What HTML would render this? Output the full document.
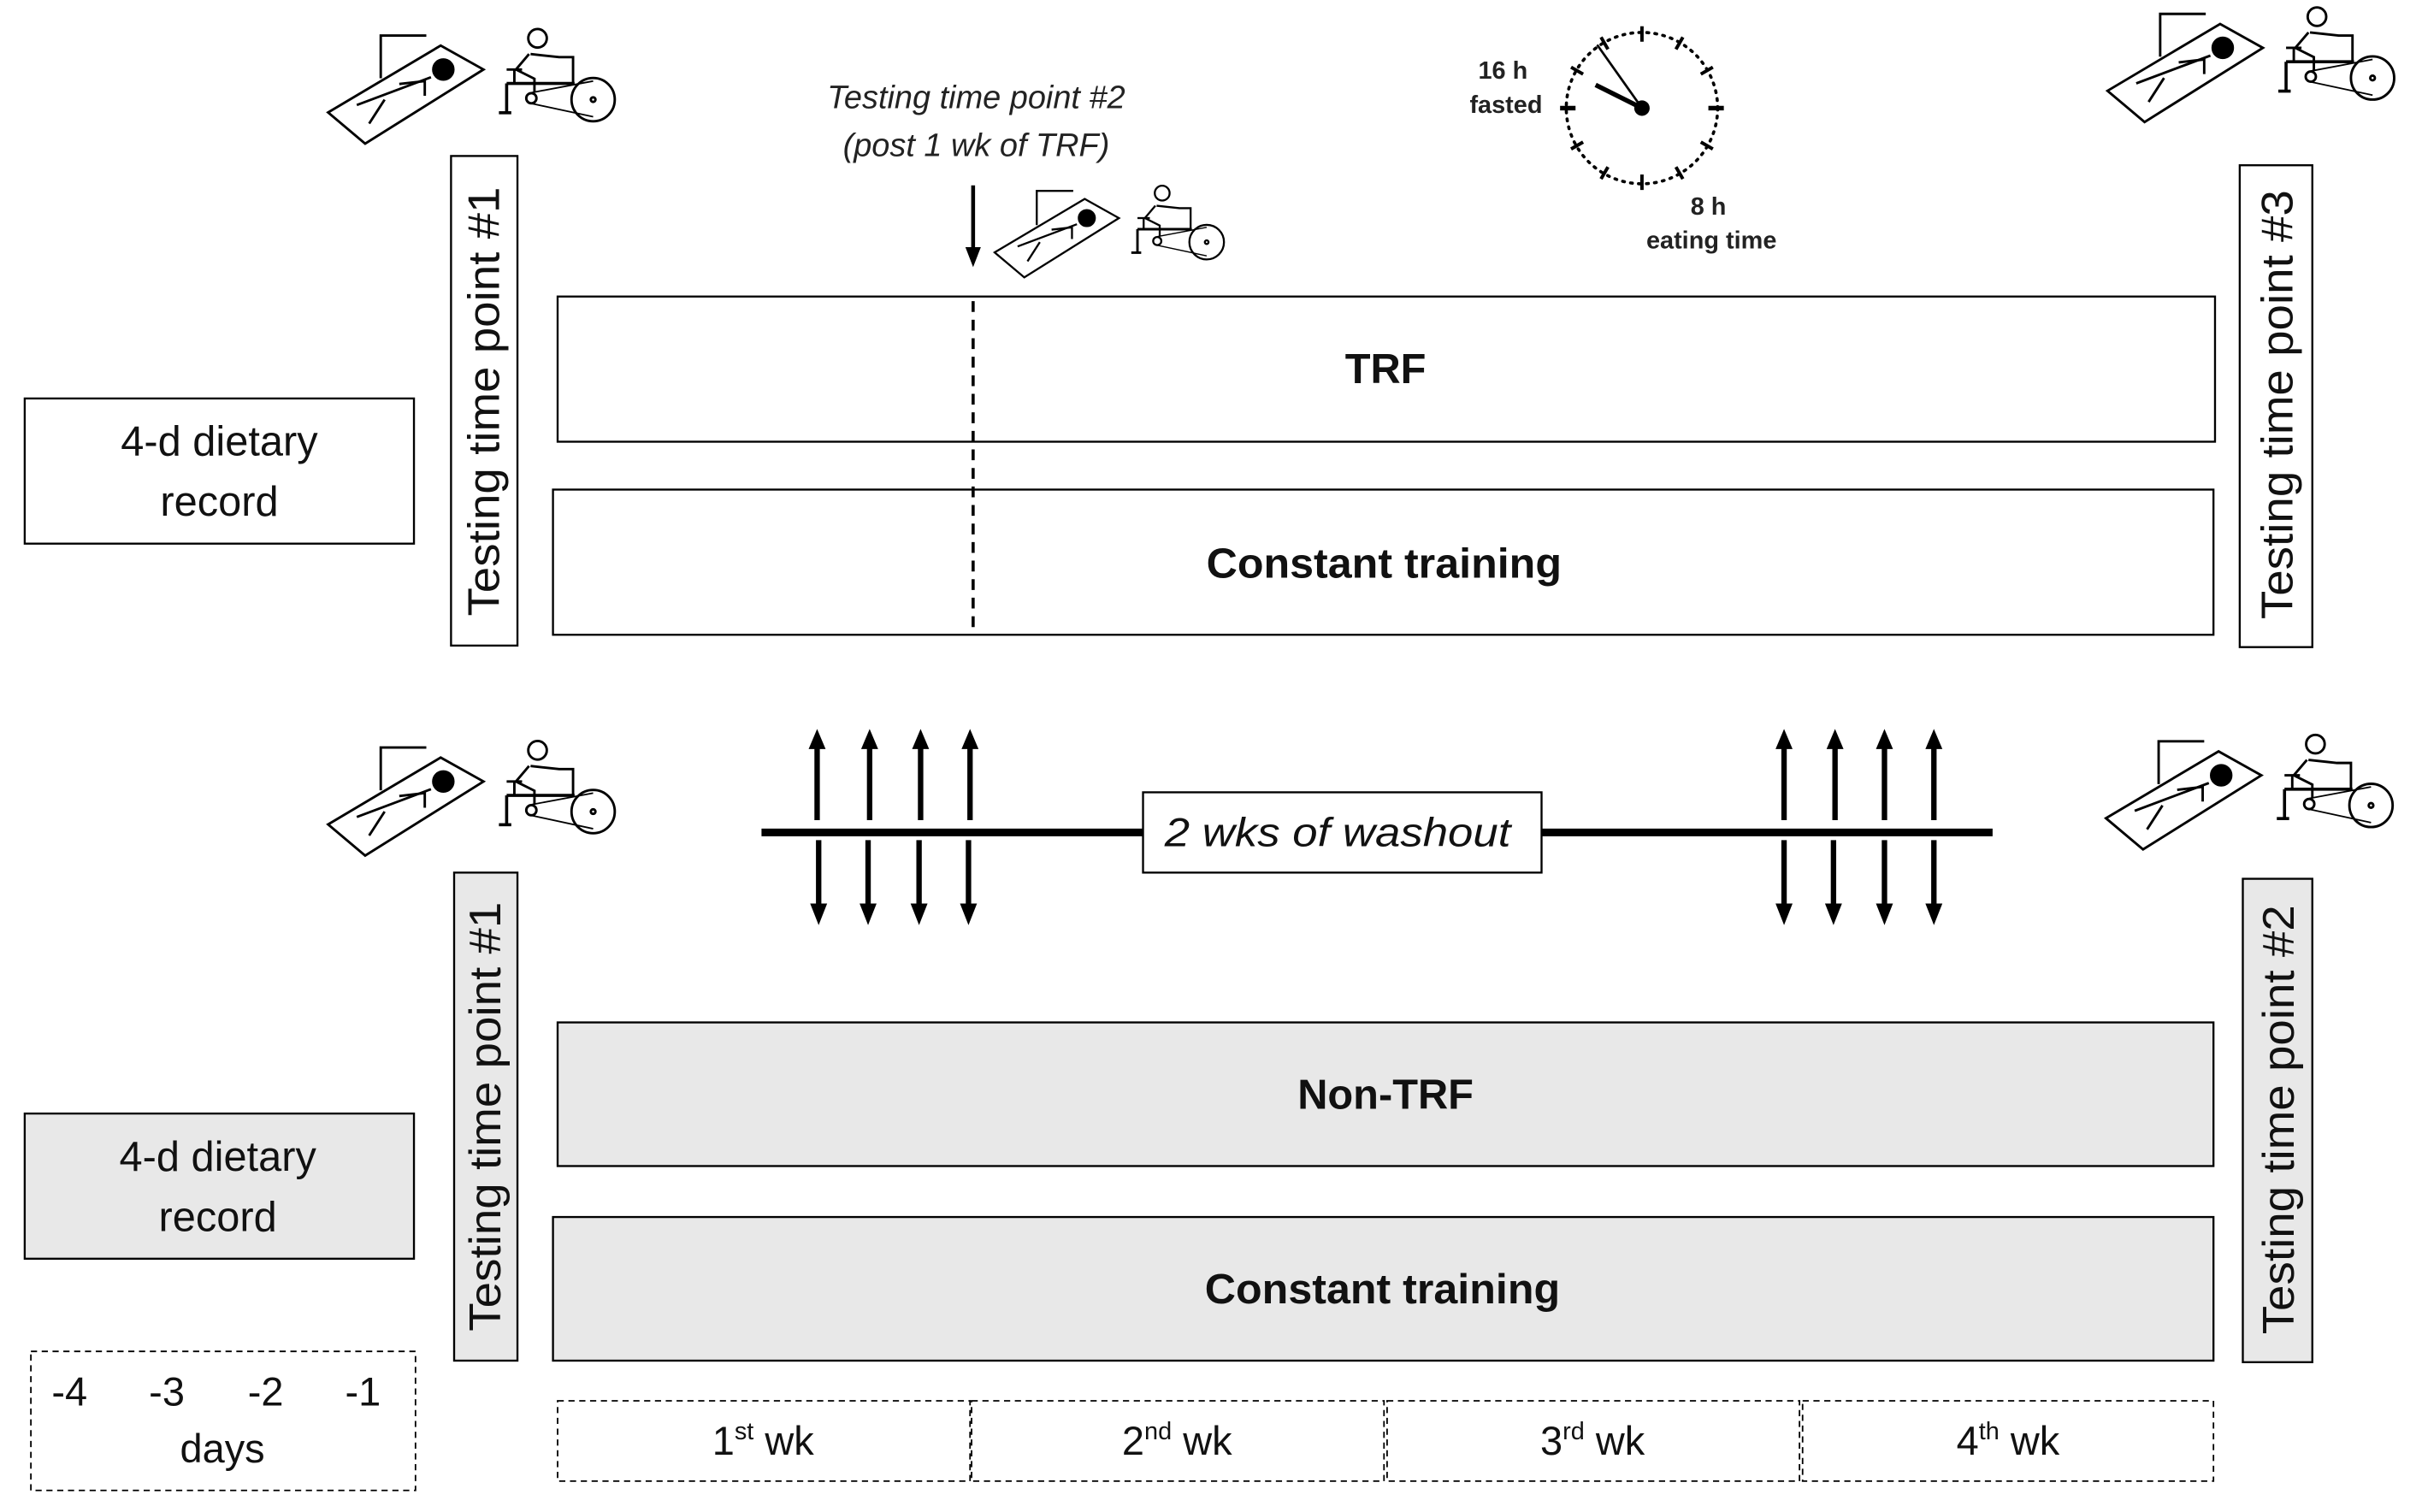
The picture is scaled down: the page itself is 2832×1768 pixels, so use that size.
<!DOCTYPE html>
<html><head><meta charset="utf-8"><style>html,body{margin:0;padding:0;background:#fff}svg{display:block}</style></head>
<body>
<svg width="2832" height="1768" viewBox="0 0 1568 979" preserveAspectRatio="none" xmlns="http://www.w3.org/2000/svg" font-family="Liberation Sans, sans-serif">
<defs>
<g id="icon" fill="none" stroke="#000" stroke-width="1.6">
<polygon points="7.4,61.8 80.3,18.5 108,34 31.4,82"/>
<polyline points="41.5,39.7 41.5,12 71,12"/>
<circle cx="82" cy="34" r="6.5" fill="#000"/>
<line x1="74" y1="39" x2="26" y2="57"/>
<line x1="44" y1="53.5" x2="34" y2="69"/>
<polyline points="53.5,43.4 70,41.5 70,51"/>
<circle cx="143" cy="13.8" r="6"/>
<line x1="137.5" y1="24" x2="129" y2="34"/>
<polyline points="138.5,24 157,26 166,26 166,43"/>
<line x1="123" y1="34" x2="133" y2="34"/>
<line x1="128" y1="34" x2="128" y2="43"/>
<polyline points="129,34 141,40 141,49"/>
<line x1="123" y1="43" x2="167" y2="43" stroke-width="2"/>
<line x1="123" y1="43" x2="123" y2="62" stroke-width="2"/>
<line x1="118" y1="62" x2="126" y2="62" stroke-width="2"/>
<circle cx="139" cy="52.6" r="3.3"/>
<circle cx="179" cy="53.5" r="14"/>
<circle cx="179" cy="53.5" r="1.5"/>
<line x1="139" y1="49" x2="179" y2="41.5" stroke-width="1"/>
<line x1="139" y1="56" x2="179" y2="64.6" stroke-width="1"/>
</g>
<g id="up"><line x1="0" y1="531" x2="0" y2="482" stroke="#000" stroke-width="3.5"/><polygon points="-5.5,485 5.5,485 0,472" fill="#000"/></g>
<g id="dn"><line x1="0" y1="544" x2="0" y2="588" stroke="#000" stroke-width="3.5"/><polygon points="-5.5,585 5.5,585 0,599" fill="#000"/></g>
</defs>

<use href="#icon" x="205" y="11"/>
<use href="#icon" x="1357" y="-3"/>
<use href="#icon" transform="translate(638,114) scale(0.8)"/>
<use href="#icon" x="205" y="472"/>
<use href="#icon" x="1356" y="468"/>

<!-- clock -->
<g stroke="#000" fill="none">
<circle cx="1063" cy="70" r="49" stroke-width="2" stroke-dasharray="1.2 4" stroke-linecap="round"/>
<g stroke-width="2.2">
<line x1="1063" y1="17" x2="1063" y2="27"/><line x1="1063" y1="113" x2="1063" y2="123"/>
<line x1="1010" y1="70" x2="1020" y2="70" stroke-width="3"/><line x1="1106" y1="70" x2="1116" y2="70" stroke-width="3"/>
<g transform="rotate(30 1063 70)"><line x1="1063" y1="17" x2="1063" y2="26"/><line x1="1063" y1="114" x2="1063" y2="123"/></g>
<g transform="rotate(60 1063 70)"><line x1="1063" y1="17" x2="1063" y2="26"/><line x1="1063" y1="114" x2="1063" y2="123"/></g>
<g transform="rotate(-30 1063 70)"><line x1="1063" y1="17" x2="1063" y2="26"/><line x1="1063" y1="114" x2="1063" y2="123"/></g>
<g transform="rotate(-60 1063 70)"><line x1="1063" y1="17" x2="1063" y2="26"/><line x1="1063" y1="114" x2="1063" y2="123"/></g>
</g>
<line x1="1063" y1="70" x2="1034" y2="29" stroke-width="1.5"/>
<line x1="1063" y1="70" x2="1033" y2="55" stroke-width="3"/>
</g>
<circle cx="1063" cy="70" r="5" fill="#000"/>
<g font-weight="bold" font-size="16" text-anchor="middle" fill="#222">
<text x="973" y="51">16 h</text><text x="975" y="73">fasted</text>
<text x="1106" y="139">8 h</text><text x="1108" y="161">eating time</text>
</g>

<!-- top section -->
<g fill="none" stroke="#000" stroke-width="1.3">
<rect x="16" y="258" width="252" height="94"/>
<rect x="292" y="101" width="43" height="317"/>
<rect x="361" y="192" width="1073" height="94"/>
<rect x="358" y="317" width="1075" height="94"/>
<rect x="1450" y="107" width="47" height="312"/>
</g>
<line x1="630" y1="195" x2="630" y2="411" stroke="#000" stroke-width="2" stroke-dasharray="7 5"/>
<line x1="630" y1="120" x2="630" y2="162" stroke="#000" stroke-width="2.5"/>
<polygon points="625,160 635,160 630,173" fill="#000"/>
<g font-style="italic" font-size="21" text-anchor="middle" fill="#222">
<text x="632" y="70">Testing time point #2</text><text x="632" y="101">(post 1 wk of TRF)</text>
</g>
<g font-size="27" text-anchor="middle" fill="#111">
<text x="142" y="295">4-d dietary</text><text x="142" y="334">record</text>
<text transform="translate(323,260) rotate(-90)" textLength="278" lengthAdjust="spacingAndGlyphs" font-size="29">Testing time point #1</text>
<text transform="translate(1484,262) rotate(-90)" textLength="278" lengthAdjust="spacingAndGlyphs" font-size="29">Testing time point #3</text>
</g>
<g font-size="27" font-weight="bold" text-anchor="middle" fill="#111">
<text x="897" y="248">TRF</text><text x="896" y="374" textLength="230" lengthAdjust="spacingAndGlyphs">Constant training</text>
</g>

<!-- washout -->
<line x1="493" y1="539" x2="1290" y2="539" stroke="#000" stroke-width="5"/>
<rect x="740" y="513" width="258" height="52" fill="#fff" stroke="#000" stroke-width="1.3"/>
<text x="866" y="548" font-style="italic" font-size="26" text-anchor="middle" fill="#111" textLength="224" lengthAdjust="spacingAndGlyphs">2 wks of washout</text>
<use href="#up" x="529"/><use href="#up" x="563"/><use href="#up" x="596"/><use href="#up" x="628"/>
<use href="#dn" x="530"/><use href="#dn" x="562"/><use href="#dn" x="595"/><use href="#dn" x="627"/>
<use href="#up" x="1155"/><use href="#up" x="1188"/><use href="#up" x="1220"/><use href="#up" x="1252"/>
<use href="#dn" x="1155"/><use href="#dn" x="1187"/><use href="#dn" x="1220"/><use href="#dn" x="1252"/>

<!-- bottom section -->
<g fill="#e8e8e8" stroke="#000" stroke-width="1.3">
<rect x="16" y="721" width="252" height="94"/>
<rect x="294" y="565" width="41" height="316"/>
<rect x="361" y="662" width="1072" height="93"/>
<rect x="358" y="788" width="1075" height="93"/>
<rect x="1452" y="569" width="45" height="313"/>
</g>
<g font-size="27" text-anchor="middle" fill="#111">
<text x="141" y="758">4-d dietary</text><text x="141" y="797">record</text>
<text transform="translate(324,723) rotate(-90)" textLength="278" lengthAdjust="spacingAndGlyphs" font-size="29">Testing time point #1</text>
<text transform="translate(1485,725) rotate(-90)" textLength="278" lengthAdjust="spacingAndGlyphs" font-size="29">Testing time point #2</text>
</g>
<g font-size="27" font-weight="bold" text-anchor="middle" fill="#111">
<text x="897" y="718">Non-TRF</text><text x="895" y="844" textLength="230" lengthAdjust="spacingAndGlyphs">Constant training</text>
</g>

<!-- days / weeks -->
<g fill="none" stroke="#000" stroke-width="1" stroke-dasharray="4 3">
<rect x="20" y="875" width="249" height="90"/>
<rect x="361" y="907" width="267" height="52"/>
<rect x="629" y="907" width="267" height="52"/>
<rect x="898" y="907" width="267" height="52"/>
<rect x="1167" y="907" width="266" height="52"/>
</g>
<g font-size="26" text-anchor="middle" fill="#111">
<text x="45" y="910">-4</text><text x="108" y="910">-3</text><text x="172" y="910">-2</text><text x="235" y="910">-1</text>
<text x="144" y="947">days</text>
<text x="494" y="942">1<tspan font-size="16" dy="-10">st</tspan><tspan dy="10"> wk</tspan></text>
<text x="762" y="942">2<tspan font-size="16" dy="-10">nd</tspan><tspan dy="10"> wk</tspan></text>
<text x="1031" y="942">3<tspan font-size="16" dy="-10">rd</tspan><tspan dy="10"> wk</tspan></text>
<text x="1300" y="942">4<tspan font-size="16" dy="-10">th</tspan><tspan dy="10"> wk</tspan></text>
</g>
</svg>
</body></html>
